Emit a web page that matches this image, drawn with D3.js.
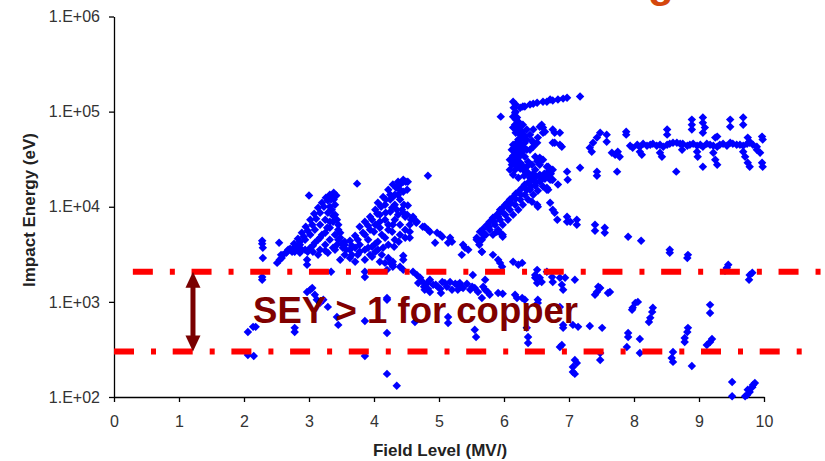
<!DOCTYPE html>
<html>
<head>
<meta charset="utf-8">
<script src="https://cdn.jsdelivr.net/npm/d3@7"></script>
<style>
body { margin: 0; background: #fff; }
text { font-family: "Liberation Sans", Arial, sans-serif; }
</style>
</head>
<body>
<div id="chart"></div>
<script>
// ticks
var xTicks = [0, 1, 2, 3, 4, 5, 6, 7, 8, 9, 10];
var yTicks = [1e2, 1e3, 1e4, 1e5, 1e6];

// SEY > 1 band for copper (eV)
var seyLimits = [300, 2070];
var seyLabel = 'SEY > 1 for copper';

// [field level MV/, impact energy eV]
var scatterLow = [
    [2.28,4390],[2.28,4080],[2.29,3700],[2.29,2900],[2.28,1830],[2.28,1710],
    [2.06,483],[2.14,546],[2.18,546],[2.06,277],[2.15,270],
    [2.54,4180],[2.51,2570],[2.58,2900],[2.60,3120],[2.66,3360],[2.74,3530],[2.78,3360],[2.86,3280],
    [2.97,2770],[2.97,2450],[2.78,533],[2.78,483],
    [2.97,1270],[3.02,1340],[3.05,1400],[3.09,1190],[3.12,1050],[3.17,976],[3.22,1050],[3.29,886],
    [3.43,695],[3.45,573],[3.34,2070],
    [3.86,2070],[3.86,1830],[3.86,631],[3.86,270],
    [4.20,1100],[4.20,1050],[4.20,472],[4.20,175],[4.35,131],
    [4.63,616],[5.14,695],[5.14,601],[5.55,508],[5.57,428],
    [6.35,533],[6.37,428],[6.37,370],
    [6.86,886],[6.91,573],[6.89,353],[6.86,336],
    [3.00,13100],[3.74,17500],[4.83,21200]
];

var archOne = [
    [2.65,3280],[2.71,3610],[2.77,4080],[2.83,4600],[2.89,5330],[2.95,6160],[3.02,7300],[3.08,8440],
    [3.14,9760],[3.20,11000],[3.26,12400],[3.32,13400],[3.38,14000],
    [2.86,3980],[2.94,4500],[3.02,5080],[3.09,5730],[3.17,6470],[3.25,7300],[3.29,8650],[3.32,10000],
    [3.34,11900],[3.42,13100],
    [3.02,3700],[3.09,4180],[3.17,4720],[3.25,5330],[3.32,6010],[3.37,6950],[3.40,8240],[3.35,9300],
    [3.17,3530],[3.25,3980],[3.32,4500],[3.40,5080],[3.45,5730],[3.48,4720],[3.55,4280],[3.52,3700],
    [3.40,3530],[3.29,3280],[3.14,3120],[2.98,3360],[2.82,3530],
    [2.55,2770],[2.68,3530],[2.57,3120],
    [2.74,3360],[2.80,3790],[2.86,4280],[2.92,4830],[2.98,5590],[3.05,6470],[3.11,7480],[3.17,8650],
    [3.23,10000],[3.29,11600],[3.35,12700],
    [2.94,3530],[3.06,3890],[3.14,4500],[3.20,5080],[3.28,6010],[3.32,6950],[3.37,8040],[3.40,10500],
    [3.38,11900],[3.45,4500],[3.51,4080],[3.43,3980],[3.37,3700],[3.25,3440],[3.06,3360],[2.89,3530],
    [3.48,5330],[3.45,6470],[3.43,7300]
];

var archTwo = [
    [3.55,3980],[3.63,4390],[3.71,4950],[3.78,6160],[3.86,6950],[3.94,7850],[4.02,9300],[4.06,11000],
    [4.14,12700],[4.22,15100],[4.29,17100],[4.37,18300],[4.45,19200],[4.52,18300],[4.45,18300],
    [4.29,12700],[4.35,9300],[4.45,8650],[4.51,8240],[4.60,7660],[4.66,6950],[4.75,6160],
    [4.43,9300],[4.48,7850],[4.57,7300],
    [4.17,10500],[4.25,11900],[4.32,13400],[4.40,15100],[4.09,8240],[4.17,7300],[4.25,8860],
    [4.32,10500],[4.40,11900],[4.02,6470],[3.94,5730],[3.86,5080],[4.09,6010],[4.22,6470],
    [4.32,7300],[4.40,6470],[4.28,5460],[4.17,4720],[4.06,4280],[3.97,3790],[3.78,3980],
    [3.71,3700],[3.63,3530],[3.86,3530],[4.02,3360],[4.14,3700],[4.22,3980],[4.32,4500],
    [4.40,5080],[4.48,5730],
    [4.55,5460],[4.55,4720],[4.60,7850],[4.65,6790],[4.78,6160],[4.83,5730],[4.86,5460],
    [4.97,5330],[5.02,5080],[5.05,4830],[4.94,4180],[5.17,4720],[5.20,4280],[5.14,4180],
    [5.37,3980],[5.40,3700],[5.45,3530],[5.35,3120],[5.58,4720],[5.66,3360],[4.45,3050],[4.45,2770],
    [3.63,2900],[3.75,3120],[3.86,2770],[3.97,2980],[4.09,2640],[4.22,2900],[4.29,2450],
    [4.20,2170],[4.25,2570],[4.29,2640],[3.55,3120],[3.48,2770],[3.71,2640],[4.06,3530],
    [3.66,3880],[3.75,4500],[3.83,5330],[3.91,6310],[3.97,7300],[4.05,8440],[4.11,10000],[4.18,11900],
    [4.25,13400],[4.34,15800],[4.40,17100],[4.49,18300],
    [3.78,3360],[3.91,3700],[4.02,4080],[4.12,5080],[4.22,5730],[4.29,6470],[4.37,8240],[4.46,10500],
    [4.37,13400],[4.45,14400],[4.51,15100],[4.28,9760],[4.18,8650],[4.09,6950],[4.00,5460],
    [3.91,4500],[4.31,3790],[4.38,4280],[4.48,4720],[4.55,6470],[4.52,10300],[3.66,3120],
    [3.94,3120],[4.12,3120],[3.57,3530]
];

var riseBand = [
    [5.58,4500],[5.63,5460],[5.68,5870],[5.74,6470],[5.78,6950],[5.83,7660],[5.89,8240],[5.94,8860],
    [5.94,9300],[5.98,9760],[6.02,10500],[6.05,11000],[6.09,11900],[6.14,12700],[6.18,13700],
    [6.22,14400],[6.28,15800],[6.32,17100],[6.37,17900],[6.43,19200],[6.49,20700],[6.55,21200],
    [6.62,22200],[6.68,23400],[6.75,24500],
    [5.69,4950],[5.78,5730],[5.86,6470],[5.94,7300],[6.02,8240],[6.09,9300],[6.17,10500],
    [6.25,11900],[6.32,13400],[6.40,15100],[6.48,16600],[6.55,18300],[6.63,19700],
    [5.83,5080],[5.91,5730],[5.98,6470],[6.06,7300],[6.14,8240],[6.22,9300],[6.29,10500],
    [6.37,11900],[6.45,13400],[6.52,14700],[6.60,16300],
    [5.62,3980],[5.66,4500],[5.72,5080],[5.77,6160],[5.85,6950],[5.91,7850],[5.97,8860],[6.05,10000],
    [6.11,11000],[6.18,12100],[6.26,13400],[6.35,15100],[6.42,16300],[6.49,17900],[6.57,19200],
    [6.65,21200],[6.72,22200],
    [5.89,5460],[5.98,4830],[5.94,5330],[5.98,5080],[5.66,3360],[5.68,5330],
    [6.43,11300],[6.51,10500],[6.52,10000],[6.66,15800],[6.68,15100],[6.83,17100],[6.71,11000]
];

var tower = [
    [6.14,127000],[6.18,119000],[6.25,110000],[6.32,113000],[6.40,119000],[6.51,124000],
    [6.60,127000],[6.71,134000],[6.83,134000],[6.97,140000],[7.17,144000],[6.91,137000],
    [6.75,131000],[6.66,127000],[6.45,121000],[6.29,113000],[5.95,88600],
    [6.17,97600],[6.20,86500],[6.17,72900],[6.20,64700],[6.25,57300],[6.29,53300],[6.35,50800],
    [6.43,49500],[6.51,47200],[6.25,44900],[6.20,41800],[6.17,37900],[6.14,34400],[6.14,31200],
    [6.17,28400],[6.20,26400],[6.25,25100],[6.31,23900],[6.37,22800],[6.45,22200],[6.55,21700],
    [6.65,20700],[6.71,19200],
    [6.22,78500],[6.25,69500],[6.28,61600],[6.32,55900],[6.22,50800],[6.18,46000],[6.23,39800],
    [6.22,35300],[6.20,31200],[6.25,29000],[6.29,27000],[6.17,24500],[6.12,27700],[6.28,37900],
    [6.32,33600],[6.37,29700],[6.29,43000],[6.40,39800],[6.48,33600],[6.51,30000],[6.60,31200],
    [6.66,26400],[6.71,22800],[6.75,19200],
    [6.15,110000],[6.18,100000],[6.14,88600],[6.18,82400],[6.14,67900],[6.18,60100],[6.25,50800],
    [6.32,47200],[6.14,44900],[6.12,39800],[6.17,32700],[6.09,31200],[6.09,24500],[6.14,21700],
    [6.22,20200],[6.31,21200],[6.40,20200],[6.35,26400],[6.43,27700],[6.48,24500],[6.55,27700],
    [6.25,34400],[6.35,39800],[6.45,42800],[6.40,57300],[6.35,64700],[6.29,72900],
    [6.45,64700],[6.55,69500],[6.60,60100],[6.52,53300],[6.45,47200],[6.58,72900],[6.60,67900],
    [6.63,61600],[6.75,64700],[6.78,60100],[6.86,60100],[6.78,47200],[6.86,44900],[6.89,42800],
    [6.75,47200],[6.55,32800],[6.58,31200],[6.68,26400],[6.71,24500],[6.97,23400],[6.98,19200],
    [7.17,25700],[7.43,23400],[7.43,21200],[7.74,23400],[6.74,19200],[6.66,15100]
];

var plateau = [
    [7.32,41800],[7.37,47200],[7.43,53300],[7.48,60100],[7.35,37900],[7.58,57300],[7.58,48300],
    [7.66,37000],[7.71,35300],[7.75,37900],[7.78,33600],[7.88,61600],[7.88,57300],
    [7.94,43900],[8.05,44900],[8.14,46000],[8.25,44900],[8.35,43900],[8.45,42800],[8.55,46000],
    [8.66,47200],[8.75,46000],[8.86,44900],[8.97,43900],[9.06,42800],[9.17,44900],[9.28,42800],
    [9.37,46000],[9.48,47200],[9.58,44900],[9.68,43900],[9.78,47200],[9.89,42800],
    [7.98,41800],[8.09,42800],[8.20,43900],[8.29,46000],[8.40,44900],[8.51,44900],[8.60,47200],
    [8.71,46000],[8.82,43900],[8.91,46000],[9.02,44900],[9.12,46000],[9.22,43900],[9.32,44900],
    [9.43,43900],[9.52,46000],[9.63,44900],[9.74,46000],[9.83,44900],
    [8.09,37900],[8.12,35300],[8.40,37000],[8.43,33600],[8.74,39800],[8.97,37900],[8.98,33600],
    [9.22,37000],[9.25,31200],[9.28,27700],[9.68,37900],[9.71,33600],[9.75,29000],[9.78,26400],
    [9.89,39800],[9.94,37000],[9.97,29000],[9.98,26400],
    [9.97,54600],[9.98,50800],[8.51,64700],[8.51,57300],[8.89,82400],[8.89,72900],[8.89,64700],
    [9.06,86500],[9.06,76600],[9.09,67900],[9.06,60100],[9.48,82400],[9.48,69500],[9.68,86500],
    [9.68,72900],[9.28,54600],[9.25,53300],[9.75,53300],[9.78,48300],
    [8.65,23400],[9.06,26400]
];

var descendTracks = [
    [4.40,2340],[4.45,2170],[4.60,2070],[4.66,1920],[4.17,2570],[4.29,2340],
    [4.71,1790],[4.75,1620],[4.82,1580],[4.86,1710],[4.91,1510],[4.98,1440],[5.05,1620],[5.09,1580],
    [4.78,1340],[4.86,1270],[5.03,1240],[5.17,1620],[5.28,1510],[5.32,1580],[5.35,1440],[5.37,1400],
    [5.29,1340],[5.51,1440],[5.55,1400],[5.71,1710],[5.68,1440],[5.71,1340],[5.75,1270],[5.78,1190],
    [5.66,1100],[5.91,1240],[5.98,1220],[6.17,1190],[6.20,1100],[6.28,1100],[6.32,1050],[6.52,1050],
    [6.52,976],[5.52,1920],
    [4.68,1580],[4.77,1440],[4.83,1370],[4.95,1510],[5.02,1370],[5.12,1440],[5.20,1340],[5.25,1550],
    [5.43,1550],[5.48,1340],[5.60,1270],
    [6.48,1790],[6.51,1580],[6.74,1830],[6.75,1620],[6.89,1510],[6.91,1340],[6.94,1790],[7.09,1710],
    [7.48,1400],[7.43,1270],[7.40,1190],[7.45,1440],[7.60,1240],[7.63,1270],
    [8.02,976],[8.06,1000],[7.98,865],[7.97,824],[8.29,865],[8.28,785],[8.25,679],[8.23,616],
    [9.17,930],[9.17,766],
    [6.91,533],[7.06,573],[7.14,546],[7.32,559],[7.51,533],
    [7.91,472],[7.91,428],[7.89,336],[8.09,408],[8.09,290],
    [8.83,533],[8.82,483],[8.78,418],[8.78,379],[9.12,353],[9.17,379],[9.20,408],
    [7.48,290],[7.48,245],[7.09,245],[7.12,228],[7.06,207],[7.06,183],[7.09,175],
    [8.60,298],[8.58,257],[8.60,234],[8.89,212],
    [9.51,144],[9.51,102],[9.74,105],[9.75,119],[9.82,127],[9.86,140],[9.78,113],[9.83,134],[9.71,102],
    [6.78,8650],[6.82,7300],[6.75,9300],[6.97,7850],[6.97,6950],[7.02,6950],[7.12,7300],[7.12,6470],
    [7.40,6470],[7.40,5590],[7.55,6010],[7.55,5330],[7.91,4830],[8.11,4390],[8.55,3530],[8.55,3280],
    [8.83,3120],[8.82,2900],[9.43,2280],[9.45,2450],[9.40,2120],[9.78,1920],[9.82,2020],[9.77,1710],
    [5.83,3120],[5.91,2770],[5.94,2570],[5.97,2340],[6.14,2640],[6.22,2450],[6.28,2570],
    [6.51,2170],[6.66,2070],[6.48,1920],[6.55,1790],[6.58,1620],[6.86,1790]
];

var allPoints = [].concat(scatterLow, archOne, archTwo, riseBand, tower, plateau, descendTracks);

var width = 825, height = 461;

var svg = d3.select('#chart')
    .append('svg')
    .attr('width', width)
    .attr('height', height);

var x = d3.scaleLinear().domain([0, 10]).range([114, 764]);
var y = d3.scaleLog().domain([100, 1e6]).range([397, 16.5]);

// bit of the slide title that pokes in at the top
svg.append('text')
    .attr('x', 648)
    .attr('y', -3)
    .attr('font-size', 42)
    .attr('font-weight', 'bold')
    .attr('fill', '#d4470c')
    .text('g');

// axes
var xAxis = d3.axisBottom(x)
    .tickValues(xTicks)
    .tickSize(5)
    .tickSizeOuter(0)
    .tickPadding(14)
    .tickFormat(d3.format('d'));

var yAxis = d3.axisLeft(y)
    .tickValues(yTicks)
    .tickSize(5)
    .tickSizeOuter(0)
    .tickPadding(9)
    .tickFormat(d => '1.E+' + d3.format('02')(Math.round(Math.log10(d))));

var gx = svg.append('g')
    .attr('transform', 'translate(0,397)')
    .call(xAxis);

var gy = svg.append('g')
    .attr('transform', 'translate(114,0)')
    .call(yAxis);

[gx, gy].forEach(g => {
    g.select('.domain').attr('stroke', '#000').attr('stroke-width', 1.3);
    g.selectAll('.tick line').attr('stroke', '#000').attr('stroke-width', 1.3);
    g.selectAll('.tick text')
        .attr('font-family', '"Liberation Sans", Arial, sans-serif')
        .attr('font-size', 16)
        .attr('fill', '#333');
});

svg.append('text')
    .attr('x', 440)
    .attr('y', 456)
    .attr('text-anchor', 'middle')
    .attr('font-size', 17)
    .attr('font-weight', 'bold')
    .attr('fill', '#222')
    .text('Field Level (MV/)');

svg.append('text')
    .attr('transform', 'translate(35,210) rotate(-90)')
    .attr('text-anchor', 'middle')
    .attr('font-size', 17)
    .attr('font-weight', 'bold')
    .attr('fill', '#222')
    .text('Impact Energy (eV)');

// points (excel style diamonds)
svg.append('g')
    .selectAll('path')
    .data(allPoints)
    .join('path')
    .attr('transform', d => `translate(${x(d[0])},${y(d[1])}) rotate(45)`)
    .attr('d', d3.symbol().type(d3.symbolSquare).size(36))
    .attr('fill', '#0000ff');

// dash-dot limits of the SEY band
var lineStart = [0, 0.29];
var lineEnd = [10.58, 10.95];

svg.append('g')
    .selectAll('line')
    .data(seyLimits)
    .join('line')
    .attr('x1', (d, i) => x(lineStart[i]))
    .attr('x2', (d, i) => x(lineEnd[i]))
    .attr('y1', d => y(d))
    .attr('y2', d => y(d))
    .attr('stroke', '#ff0000')
    .attr('stroke-width', 6)
    .attr('stroke-dasharray', '20,17,5,16.7');

// double arrow between the limits
var arrowX = x(1.215);
var yTop = y(seyLimits[1]);
var yBot = y(seyLimits[0]);
var arrowColor = '#7a0000';

svg.append('line')
    .attr('x1', arrowX).attr('x2', arrowX)
    .attr('y1', yTop + 12).attr('y2', yBot - 12)
    .attr('stroke', arrowColor)
    .attr('stroke-width', 5);

svg.append('path')
    .attr('d', `M${arrowX},${yTop} L${arrowX + 7.5},${yTop + 16} L${arrowX - 7.5},${yTop + 16}Z`)
    .attr('fill', arrowColor);

svg.append('path')
    .attr('d', `M${arrowX},${yBot} L${arrowX + 7.5},${yBot - 16} L${arrowX - 7.5},${yBot - 16}Z`)
    .attr('fill', arrowColor);

svg.append('text')
    .attr('x', x(2.14))
    .attr('y', y(600))
    .attr('font-size', 36.5)
    .attr('font-weight', 'bold')
    .attr('fill', '#800000')
    .text(seyLabel);
</script>
</body>
</html>
